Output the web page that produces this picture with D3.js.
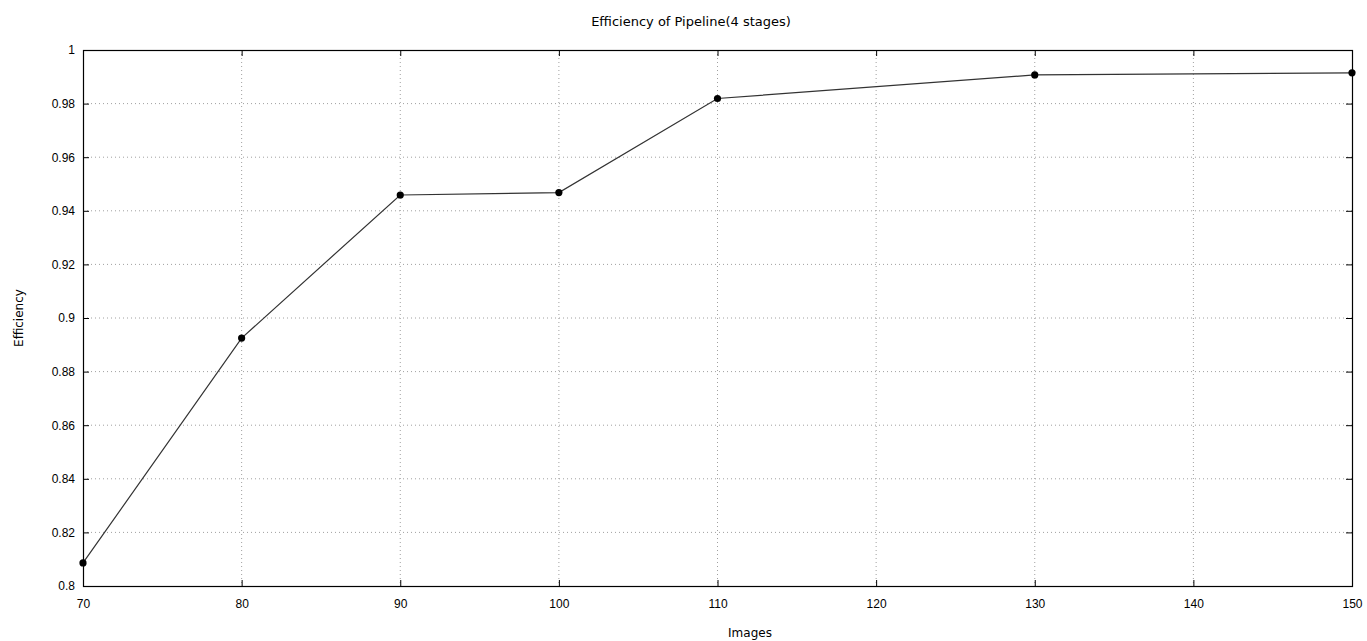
<!DOCTYPE html>
<html>
<head>
<meta charset="utf-8">
<script src="https://cdn.jsdelivr.net/npm/d3@7"></script>
<style>
  body { margin: 0; background: #fff; }
  svg { display: block; font-family: "DejaVu Sans", sans-serif; }
</style>
</head>
<body>
<div id="chart"></div>
<script>
const images = [70, 80, 90, 100, 110, 130, 150];
const efficiency = [0.8086, 0.8925, 0.9459, 0.9468, 0.9819, 0.9907, 0.9915];
const xTicks = [70, 80, 90, 100, 110, 120, 130, 140, 150];
const yTicks = [0.8, 0.82, 0.84, 0.86, 0.88, 0.9, 0.92, 0.94, 0.96, 0.98, 1];

const width = 1367;
const height = 641;
const marginTop = 50;
const marginRight = 15;
const marginBottom = 55;
const marginLeft = 83;

const data = images.map((d, i) => ({images: d, eff: efficiency[i]}));

const x = d3.scaleLinear()
    .domain([70, 150])
    .range([marginLeft, width - marginRight]);

const y = d3.scaleLinear()
    .domain([0.8, 1])
    .range([height - marginBottom, marginTop]);

const svg = d3.select("#chart").append("svg")
    .attr("width", width)
    .attr("height", height)
    .attr("viewBox", [0, 0, width, height]);

// grid
svg.append("g")
    .selectAll("line")
    .data(xTicks.slice(1, -1))
    .join("line")
    .attr("x1", d => x(d)).attr("x2", d => x(d))
    .attr("y1", marginTop).attr("y2", height - marginBottom)
    .attr("stroke", "#a0a0a0")
    .attr("stroke-width", 1)
    .attr("stroke-dasharray", "1,3");

svg.append("g")
    .selectAll("line")
    .data(yTicks.slice(1, -1))
    .join("line")
    .attr("x1", marginLeft).attr("x2", width - marginRight)
    .attr("y1", d => y(d)).attr("y2", d => y(d))
    .attr("stroke", "#a0a0a0")
    .attr("stroke-width", 1)
    .attr("stroke-dasharray", "1,3");

// axes with inward ticks, mirrored
const fmtY = d => d3.format("~g")(d);
const styleAxis = g => {
    g.select(".domain").remove();
    g.selectAll(".tick line").attr("stroke", "#000");
    g.selectAll(".tick text").attr("fill", "#000").attr("font-size", 12);
};

svg.append("g")
    .attr("transform", `translate(0,${height - marginBottom})`)
    .call(d3.axisBottom(x).tickValues(xTicks).tickSize(-6).tickPadding(13))
    .call(styleAxis);

svg.append("g")
    .attr("transform", `translate(0,${marginTop})`)
    .call(d3.axisTop(x).tickValues(xTicks).tickSize(-6).tickFormat(""))
    .call(styleAxis);

svg.append("g")
    .attr("transform", `translate(${marginLeft},0)`)
    .call(d3.axisLeft(y).tickValues(yTicks).tickSize(-6).tickPadding(8).tickFormat(fmtY))
    .call(styleAxis);

svg.append("g")
    .attr("transform", `translate(${width - marginRight},0)`)
    .call(d3.axisRight(y).tickValues(yTicks).tickSize(-6).tickFormat(""))
    .call(styleAxis);

// border
svg.append("rect")
    .attr("x", marginLeft + 0.5)
    .attr("y", marginTop + 0.5)
    .attr("width", width - marginLeft - marginRight)
    .attr("height", height - marginTop - marginBottom)
    .attr("fill", "none")
    .attr("stroke", "#000")
    .attr("stroke-width", 1.2);

// line
const line = d3.line()
    .x(d => x(d.images))
    .y(d => y(d.eff));

svg.append("path")
    .datum(data)
    .attr("fill", "none")
    .attr("stroke", "#333")
    .attr("stroke-width", 1.2)
    .attr("d", line);

svg.selectAll("circle")
    .data(data)
    .join("circle")
    .attr("cx", d => x(d.images))
    .attr("cy", d => y(d.eff))
    .attr("r", 3.6)
    .attr("fill", "#000");

// labels
svg.append("text")
    .attr("x", 691)
    .attr("y", 26)
    .attr("text-anchor", "middle")
    .attr("font-size", 13)
    .text("Efficiency of Pipeline(4 stages)");

svg.append("text")
    .attr("x", 750)
    .attr("y", 637)
    .attr("text-anchor", "middle")
    .attr("font-size", 12)
    .text("Images");

svg.append("text")
    .attr("transform", `translate(23,318) rotate(-90)`)
    .attr("text-anchor", "middle")
    .attr("font-size", 12)
    .text("Efficiency");
</script>
</body>
</html>
